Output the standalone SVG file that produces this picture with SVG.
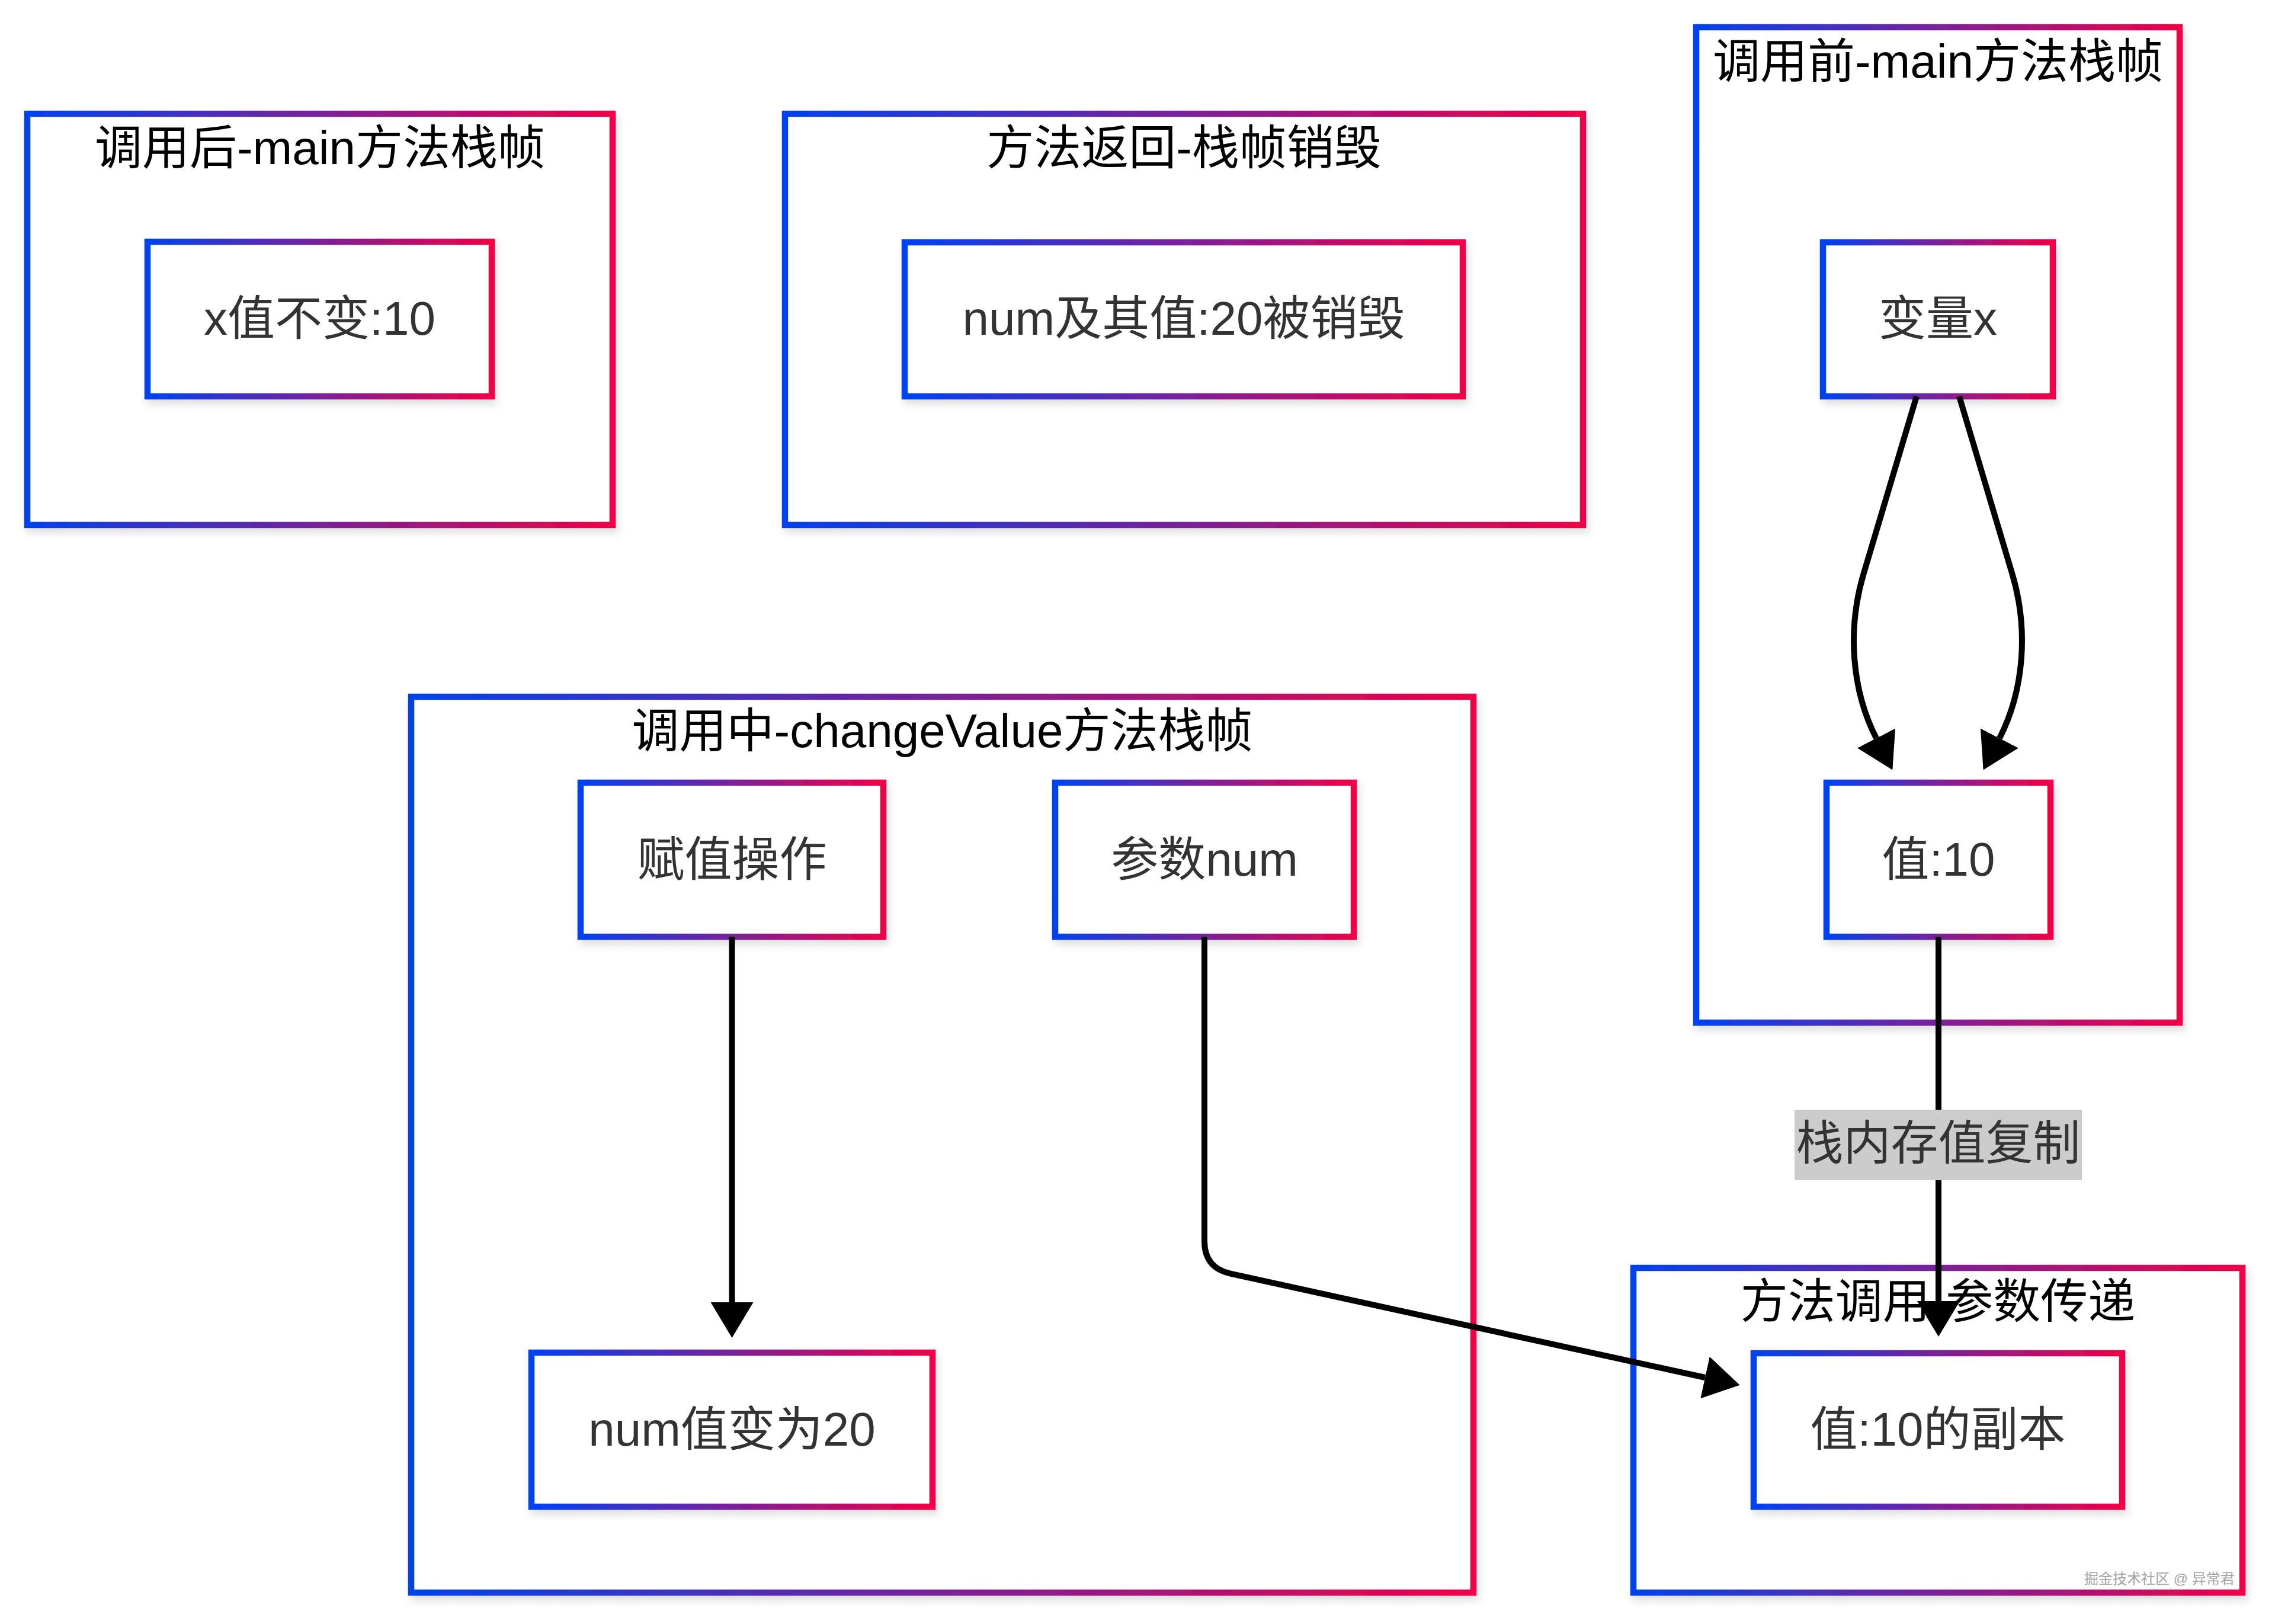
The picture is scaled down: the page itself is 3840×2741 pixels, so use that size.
<svg xmlns="http://www.w3.org/2000/svg" width="3840" height="2741" viewBox="0 0 3840 2741">
  <defs>
    <linearGradient id="grad" x1="0" y1="0" x2="1" y2="0">
      <stop offset="0" stop-color="#0042f0"/>
      <stop offset="0.5" stop-color="#7a2199"/>
      <stop offset="1" stop-color="#f00046"/>
    </linearGradient>
    <filter id="shadow" x="-5%" y="-5%" width="110%" height="115%">
      <feDropShadow dx="4" dy="8" stdDeviation="7" flood-color="#000" flood-opacity="0.13"/>
    </filter>
    <marker id="arrow" viewBox="0 0 60 72" refX="0" refY="36" markerWidth="60" markerHeight="72" markerUnits="userSpaceOnUse" orient="auto">
      <path d="M0,0 L60,36 L0,72 Z" fill="#000"/>
    </marker>
    <style>
      .box { fill: #ffffff; stroke: url(#grad); stroke-width: 10.5; filter: url(#shadow); }
      .title { font-family: "Liberation Sans", "Noto Sans CJK SC", sans-serif; font-size: 80px; fill: #000; text-anchor: middle; }
      .label { font-family: "Liberation Sans", "Noto Sans CJK SC", sans-serif; font-size: 80px; fill: #333; text-anchor: middle; }
      .edge { fill: none; stroke: #000; stroke-width: 10; marker-end: url(#arrow); }
      .wm { font-family: "Liberation Sans", "Noto Sans CJK SC", sans-serif; font-size: 24px; fill: #a3a3a3; }
    </style>
  </defs>
  <rect width="3840" height="2741" fill="#ffffff"/>

  <g id="cluster-after">
    <rect class="box" x="46" y="192" width="988" height="694"/>
    <text class="title" x="540" y="277">调用后-main方法栈帧</text>
  </g>
  <g id="cluster-return">
    <rect class="box" x="1325" y="192" width="1347" height="694"/>
    <text class="title" x="1998.5" y="277">方法返回-栈帧销毁</text>
  </g>
  <g id="cluster-before">
    <rect class="box" x="2863" y="46" width="816" height="1680"/>
    <text class="title" x="3271" y="131">调用前-main方法栈帧</text>
  </g>
  <g id="cluster-during">
    <rect class="box" x="694" y="1176" width="1793" height="1512"/>
    <text class="title" x="1590.5" y="1261">调用中-changeValue方法栈帧</text>
  </g>
  <g id="cluster-pass">
    <rect class="box" x="2757" y="2140" width="1028" height="548"/>
    <text class="title" x="3271" y="2224">方法调用-参数传递</text>
  </g>

  <g id="node-x-unchanged">
    <rect class="box" x="249" y="408" width="581" height="261"/>
    <text class="label" x="539.5" y="565">x值不变:10</text>
  </g>
  <g id="node-num-destroyed">
    <rect class="box" x="1527" y="409" width="942" height="260"/>
    <text class="label" x="1998" y="565">num及其值:20被销毁</text>
  </g>
  <g id="node-var-x">
    <rect class="box" x="3077" y="409" width="388" height="260"/>
    <text class="label" x="3271" y="565">变量x</text>
  </g>
  <g id="node-value-10">
    <rect class="box" x="3083" y="1321" width="378" height="260"/>
    <text class="label" x="3272" y="1478">值:10</text>
  </g>
  <g id="node-assign">
    <rect class="box" x="980" y="1321" width="511" height="260"/>
    <text class="label" x="1235.5" y="1478">赋值操作</text>
  </g>
  <g id="node-param-num">
    <rect class="box" x="1781" y="1321" width="504" height="260"/>
    <text class="label" x="2033" y="1478">参数num</text>
  </g>
  <g id="node-num-20">
    <rect class="box" x="897" y="2283" width="677" height="260"/>
    <text class="label" x="1235.5" y="2440">num值变为20</text>
  </g>
  <g id="node-copy">
    <rect class="box" x="2960" y="2284" width="622" height="259"/>
    <text class="label" x="3271" y="2440">值:10的副本</text>
  </g>

  <g id="connectors">
    <path class="edge" d="M3235,669 L3146,967 C3117,1063 3126,1166 3167,1246"/>
    <path class="edge" d="M3307,669 L3396,967 C3425,1063 3416,1166 3375,1246"/>
    <path class="edge" d="M1235.5,1581 L1235.5,2198"/>
    <path class="edge" d="M2033,1581 L2033,2095 Q2033,2140 2077,2149.7 L2878,2325"/>
    <path class="edge" d="M3272,1581 L3272,2196"/>
    <g id="edge-label">
      <rect x="3029" y="1873" width="485" height="119" fill="#cccccc"/>
      <text class="label" x="3271.5" y="1957">栈内存值复制</text>
    </g>
  </g>

  <text class="wm" x="3518" y="2673">掘金技术社区 @ 异常君</text>
</svg>
